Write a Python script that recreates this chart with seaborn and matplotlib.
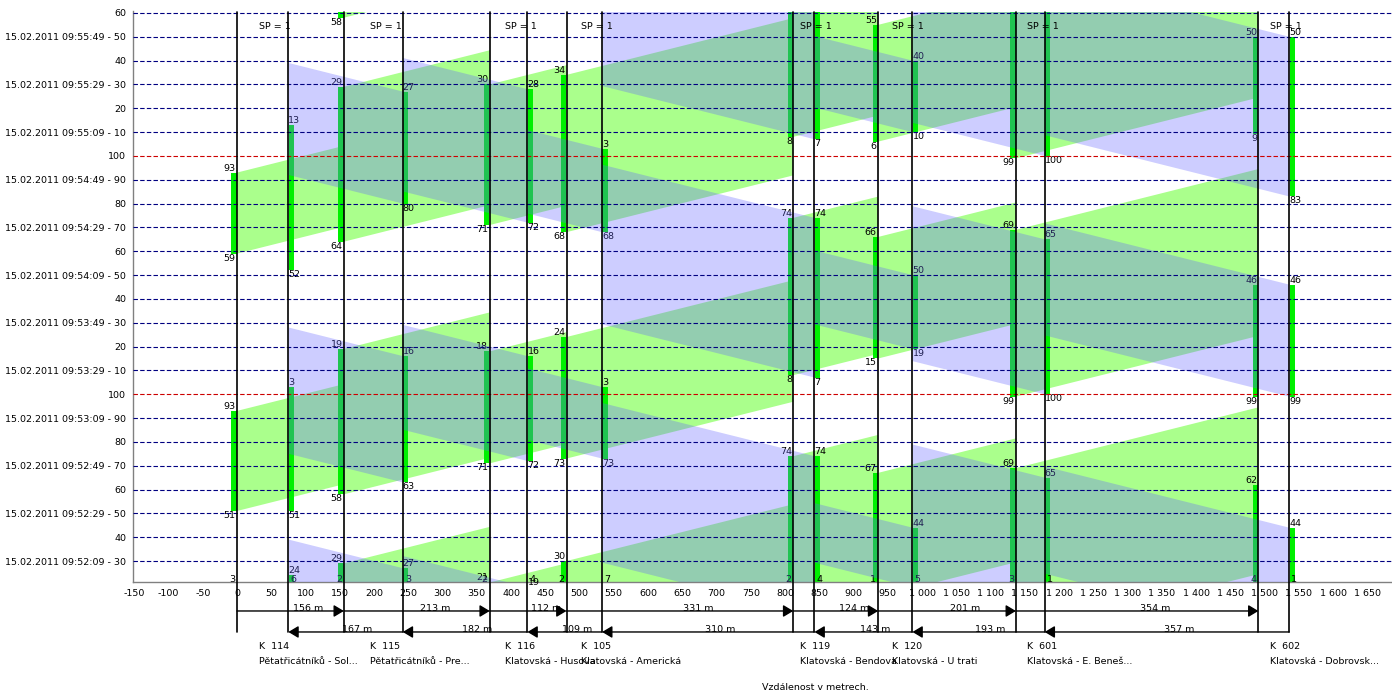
import matplotlib
matplotlib.use("Agg")
import matplotlib.pyplot as plt
import seaborn as sns

sns.set_theme(style="white")
plt.rcParams['font.family'] = ['DejaVu Sans']
plt.rcParams['text.color'] = 'black'
plt.rcParams['xtick.color'] = 'black'
plt.rcParams['ytick.color'] = 'black'

# Intersections along the corridor (left to right).
intersections = ['K  114', 'K  115', 'K  116', 'K  105', 'K  119', 'K  120', 'K  601', 'K  602']
streets = ['Pětatřicátníků - Sol...', 'Pětatřicátníků - Pre...', 'Klatovská - Husova',
           'Klatovská - Americká', 'Klatovská - Bendova', 'Klatovská - U trati',
           'Klatovská - E. Beneš...', 'Klatovská - Dobrovsk...']

# Distances between stop lines, direction 1 (to the right) and direction 2 (to the left).
dir1_dist = [156, 213, 112, 331, 124, 201, 354]
dir2_dist = [167, 182, 109, 310, 143, 193, 357]
dir1_start = 0
dir2_start = 75
speed_kmh = 50

# Signal group numbers at each stop line.
dir1_sg = [3, 2, 2, 2, 2, 1, 3, 4]
dir2_sg = [6, 3, 4, 7, 4, 5, 1, 1]

# Green windows (seconds on the time axis) at each stop line.
dir1_green = [
    [(51, 93), (159, 193)],
    [(-42, 29), (58, 119), (164, 229), (258, 329)],
    [(-29, 21), (71, 118), (171, 230)],
    [(-32, 30), (73, 124), (168, 234)],
    [(8, 74), (108, 174), (208, 274)],
    [(15, 67), (115, 166), (206, 255)],
    [(-1, 69), (99, 169), (199, 269)],
    [(9, 62), (99, 146), (209, 250)],
]
dir2_green = [
    [(-49, 24), (51, 103), (152, 213)],
    [(-20, 27), (63, 116), (180, 227)],
    [(-28, 19), (72, 116), (172, 228)],
    [(73, 103), (168, 203)],
    [(7, 74), (107, 174), (207, 274)],
    [(19, 44), (119, 150), (210, 240)],
    [(0, 65), (100, 165), (200, 265)],
    [(-1, 44), (99, 146), (183, 250)],
]

ytick_values = list(range(30, 261, 10))
ytick_labels = [
    '15.02.2011 09:52:09 - 30', '40', '15.02.2011 09:52:29 - 50', '60',
    '15.02.2011 09:52:49 - 70', '80', '15.02.2011 09:53:09 - 90', '100',
    '15.02.2011 09:53:29 - 10', '20', '15.02.2011 09:53:49 - 30', '40',
    '15.02.2011 09:54:09 - 50', '60', '15.02.2011 09:54:29 - 70', '80',
    '15.02.2011 09:54:49 - 90', '100', '15.02.2011 09:55:09 - 10', '20',
    '15.02.2011 09:55:29 - 30', '40', '15.02.2011 09:55:49 - 50', '60',
]
xtick_values = list(range(-150, 1651, 50))

# Stop line positions.
dir1_x = [dir1_start]
for d in dir1_dist:
    dir1_x.append(dir1_x[-1] + d)
dir2_x = [dir2_start]
for d in dir2_dist:
    dir2_x.append(dir2_x[-1] + d)

v = speed_kmh / 3.6
fs = 6.8
band_green = '#aaff8c'
band_blue = '#6464ff'
bar_green = '#00f000'
ymin, ymax = 21.2, 260.6


def cyc(t):
    return ((t - 1) % 100) + 1


fig = plt.figure(figsize=(13.92, 6.95), dpi=100)
ax = fig.add_axes([133 / 1392, 1 - 582 / 695, 1259 / 1392, 570.5 / 695])
ax.set_xlim(-151.8, 1686)
ax.set_ylim(ymin, ymax)
trans = ax.get_xaxis_transform()

# Green wave bands, direction 1 (green) under the bars.
for i in range(len(dir1_x) - 1):
    x0, x1 = dir1_x[i], dir1_x[i + 1]
    tt = (x1 - x0) / v
    for s, e in dir1_green[i]:
        ax.fill([x0, x0, x1, x1], [s, e, e + tt, s + tt], color=band_green, lw=0, zorder=1)

# Green bars and their labels.
for x, wins, sg in zip(dir1_x, dir1_green, dir1_sg):
    for s, e in wins:
        ax.bar(x - 4.4, e - s, bottom=s, width=7.8, color=bar_green, lw=0, zorder=2)
        if ymin - 4 < e < ymax - 3:
            ax.text(x - 2, e, str(cyc(e)), ha='right', va='bottom', fontsize=fs, zorder=3)
        if ymin < s < ymax:
            ax.text(x - 2, s, str(cyc(s)), ha='right', va='top', fontsize=fs, zorder=3)
    ax.text(x - 3, ymin - 1, str(sg), ha='right', va='bottom', fontsize=fs, zorder=3)

for x, wins, sg in zip(dir2_x, dir2_green, dir2_sg):
    for s, e in wins:
        ax.bar(x + 4.4, e - s, bottom=s, width=7.8, color=bar_green, lw=0, zorder=2)
        if ymin - 4 < e < ymax - 3:
            ax.text(x, e, str(cyc(e)), ha='left', va='bottom', fontsize=fs, zorder=3)
        if ymin < s < ymax:
            ax.text(x, s, str(cyc(s)), ha='left', va='top', fontsize=fs, zorder=3)
    ax.text(x + 3, ymin - 1, str(sg), ha='left', va='bottom', fontsize=fs, zorder=3)

# Direction 2 bands (blue, translucent) over the bars.
for i in range(len(dir2_x) - 1):
    x_up, x_dn = dir2_x[i + 1], dir2_x[i]
    tt = (x_up - x_dn) / v
    for s, e in dir2_green[i + 1]:
        ax.fill([x_up, x_up, x_dn, x_dn], [s, e, e + tt, s + tt], color=band_blue,
                alpha=0.32, lw=0, zorder=4)

# Horizontal grid, cycle boundaries in red.
for t in ytick_values:
    ax.axhline(t, color='#cc0000' if t % 100 == 0 else '#000080', lw=0.8,
               ls=(0, (4, 2)), zorder=5)

# Stop lines.
row1, row2 = -0.0508, -0.0876
for x in dir1_x + dir2_x:
    ax.plot([x, x], [1, row2], transform=trans, color='black', lw=1.2, clip_on=False, zorder=6)

arrow = dict(arrowstyle='-|>,head_length=0.5,head_width=0.3', color='black', lw=1,
             shrinkA=0, shrinkB=0)
for i, d in enumerate(dir1_dist):
    ax.annotate('', xy=(dir1_x[i + 1], row1), xytext=(dir1_x[i], row1), xycoords=trans,
                arrowprops=arrow, annotation_clip=False)
    ax.annotate(f'{d} m', xy=((dir1_x[i] + dir1_x[i + 1]) / 2, row1), xycoords=trans,
                xytext=(13, -1.5), textcoords='offset points', ha='center', va='bottom',
                fontsize=fs, annotation_clip=False)
for i, d in enumerate(dir2_dist):
    ax.annotate('', xy=(dir2_x[i], row2), xytext=(dir2_x[i + 1], row2), xycoords=trans,
                arrowprops=arrow, annotation_clip=False)
    ax.annotate(f'{d} m', xy=((dir2_x[i] + dir2_x[i + 1]) / 2, row2), xycoords=trans,
                xytext=(8.6, -1.5), textcoords='offset points', ha='center', va='bottom',
                fontsize=fs, annotation_clip=False)

# Intersection names and SP labels.
for name, street, x1, x2 in zip(intersections, streets, dir1_x, dir2_x):
    mid = (x1 + x2) / 2
    ax.annotate(name, xy=(mid, -0.1139), xycoords=trans, xytext=(-2.5, 0),
                textcoords='offset points', ha='left', va='center', fontsize=fs,
                annotation_clip=False)
    ax.annotate(street, xy=(mid, -0.1402), xycoords=trans, xytext=(-2.5, 0),
                textcoords='offset points', ha='left', va='center', fontsize=fs,
                annotation_clip=False)
    ax.annotate('SP = 1', xy=(mid, 254.1), xytext=(-2.5, 0), textcoords='offset points',
                ha='left', va='center', fontsize=fs, zorder=7)

ax.set_yticks(ytick_values)
ax.set_yticklabels(ytick_labels)
ax.set_xticks(xtick_values)
ax.set_xticklabels([f'{t:,}'.replace(',', ' ') for t in xtick_values])
ax.tick_params(axis='both', length=3, width=0.8, color='#808080', pad=2, labelsize=fs)
for side in ['top', 'right']:
    ax.spines[side].set_visible(False)
for side in ['left', 'bottom']:
    ax.spines[side].set_color('#808080')
    ax.spines[side].set_linewidth(1)

fig.text(815 / 1392, 1 - 688 / 695, 'Vzdálenost v metrech.', ha='center', va='center',
         fontsize=fs)

fig.savefig('out.png', dpi=100)
